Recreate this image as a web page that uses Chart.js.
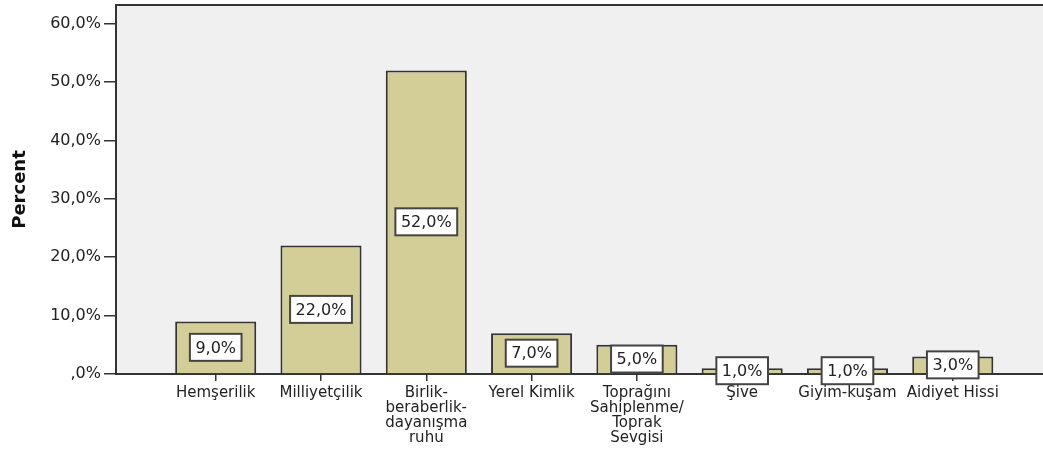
<!DOCTYPE html>
<html>
<head>
<meta charset="utf-8">
<script src="https://cdn.jsdelivr.net/npm/chart.js@4/dist/chart.umd.min.js"></script>
<style>
  html, body { margin: 0; padding: 0; background: #ffffff; overflow: hidden; }
  #c { display: block; }
</style>
</head>
<body>
<canvas id="c" width="1043" height="457"></canvas>
<script>
// ---- Data ----
const categories = [
  ["Hemşerilik"],
  ["Milliyetçilik"],
  ["Birlik-", "beraberlik-", "dayanışma", "ruhu"],
  ["Yerel Kimlik"],
  ["Toprağını", "Sahiplenme/", "Toprak", "Sevgisi"],
  ["Şive"],
  ["Giyim-kuşam"],
  ["Aidiyet Hissi"]
];
const percentValues = [9, 22, 52, 7, 5, 1, 1, 3];
const valueLabels = ["9,0%", "22,0%", "52,0%", "7,0%", "5,0%", "1,0%", "1,0%", "3,0%"];
const yTickValues = [0, 10, 20, 30, 40, 50, 60];
const yTickLabels = [",0%", "10,0%", "20,0%", "30,0%", "40,0%", "50,0%", "60,0%"];
const yAxisTitle = "Percent";

// ---- Plugins ----
const plotBackground = {
  id: 'plotBackground',
  beforeDraw(chart) {
    const {ctx, chartArea: a} = chart;
    ctx.save();
    ctx.fillStyle = '#f0f0f0';
    ctx.fillRect(a.left, a.top, a.right - a.left, a.bottom - a.top);
    ctx.strokeStyle = '#333333';
    ctx.lineWidth = 2;
    ctx.beginPath();
    ctx.moveTo(a.left, a.top);
    ctx.lineTo(a.right, a.top);
    ctx.stroke();
    ctx.restore();
  }
};

const boxLabels = {
  id: 'boxLabels',
  afterDatasetsDraw(chart) {
    const {ctx} = chart;
    const meta = chart.getDatasetMeta(0);
    ctx.save();
    ctx.font = '16px "DejaVu Sans"';
    ctx.textAlign = 'center';
    ctx.textBaseline = 'middle';
    meta.data.forEach((bar, i) => {
      const txt = valueLabels[i];
      const cx = bar.x;
      const cy = (bar.y + bar.base) / 2;
      const w = ctx.measureText(txt).width + 11;
      const h = 27;
      ctx.fillStyle = '#ffffff';
      ctx.fillRect(cx - w / 2, cy - h / 2, w, h);
      ctx.strokeStyle = '#444444';
      ctx.lineWidth = 2;
      ctx.strokeRect(cx - w / 2, cy - h / 2, w, h);
      ctx.fillStyle = '#222222';
      ctx.fillText(txt, cx, cy + 1);
    });
    ctx.restore();
  }
};

const points = percentValues.map((v, i) => ({x: i, y: v}));

new Chart(document.getElementById('c'), {
  type: 'bar',
  data: {
    datasets: [{
      data: points,
      backgroundColor: '#d3ce97',
      borderColor: '#333333',
      borderWidth: 2,
      borderSkipped: 'bottom',
      categoryPercentage: 1.0,
      barPercentage: 0.77
    }]
  },
  options: {
    responsive: false,
    animation: false,
    devicePixelRatio: 1,
    layout: { padding: { top: 5, right: 0, left: 0, bottom: 0 } },
    plugins: {
      legend: { display: false },
      tooltip: { enabled: false }
    },
    scales: {
      x: {
        type: 'linear',
        min: -0.947,
        max: 7.857,
        offset: false,
        afterBuildTicks(scale) {
          scale.ticks = categories.map((c, i) => ({value: i}));
        },
        afterFit(scale) {
          scale.height = 83;
          scale.paddingLeft = 0;
          scale.paddingRight = 0;
        },
        grid: {
          offset: false,
          drawOnChartArea: false,
          drawTicks: true,
          tickLength: 7,
          color: '#333333',
          lineWidth: 1.5
        },
        border: { display: true, color: '#333333', width: 2 },
        ticks: {
          autoSkip: false,
          maxRotation: 0,
          minRotation: 0,
          padding: 5,
          color: '#222222',
          font: { family: '"DejaVu Sans"', size: 15, lineHeight: 1.0 },
          callback: (v) => categories[v]
        }
      },
      y: {
        min: 0,
        max: 63.2,
        afterBuildTicks(scale) {
          scale.ticks = yTickValues.map(v => ({value: v}));
        },
        afterFit(scale) {
          scale.width = 116;
          scale.paddingTop = 0;
          scale.paddingBottom = 0;
        },
        grid: {
          drawOnChartArea: false,
          drawTicks: true,
          tickLength: 12,
          color: '#333333',
          lineWidth: 1.5
        },
        border: { display: true, color: '#333333', width: 2 },
        ticks: {
          padding: 3,
          color: '#222222',
          font: { family: '"DejaVu Sans"', size: 16 },
          callback: (v) => {
            const idx = yTickValues.indexOf(v);
            return idx >= 0 ? yTickLabels[idx] : '';
          }
        },
        title: {
          display: true,
          text: yAxisTitle,
          color: '#111111',
          font: { family: '"DejaVu Sans"', size: 18, weight: 'bold' },
          padding: { top: 10, bottom: 0 }
        }
      }
    }
  },
  plugins: [plotBackground, boxLabels]
});
</script>
</body>
</html>
